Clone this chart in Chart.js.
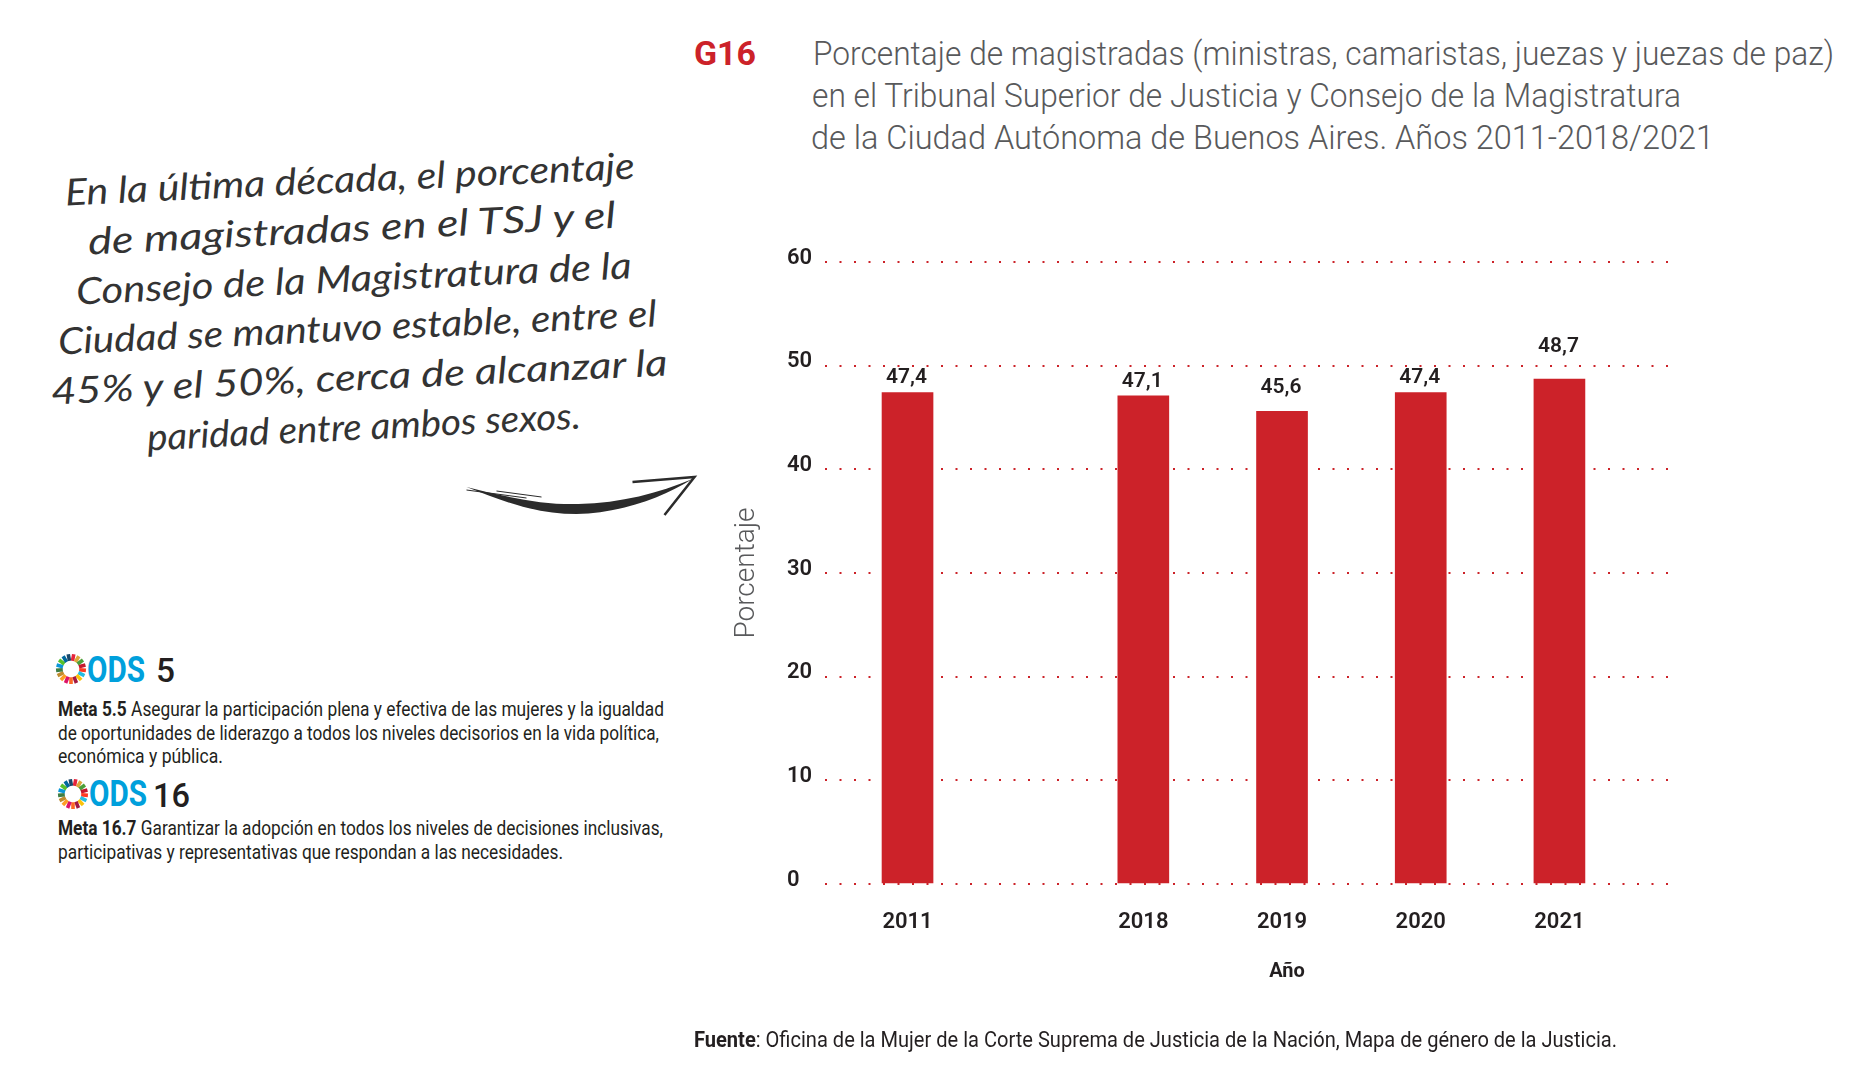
<!DOCTYPE html>
<html lang="es">
<head>
<meta charset="UTF-8">
<title>G16 Porcentaje de magistradas</title>
<script src="https://cdn.jsdelivr.net/npm/chart.js"></script>
<style>
    html, body { margin: 0; background: #fff; overflow: hidden; }
    #page { position: relative; width: 1871px; height: 1087px; }
    #page canvas { position: absolute; left: 700px; top: 230px; }
    .t { position: absolute; white-space: pre; line-height: 1; }
    .t b { font-weight: 700; }
    svg { position: absolute; left: 0; top: 0; }
</style>
</head>
<body>
<div id="page">
    <svg id="deco" width="1871" height="1087"></svg>
    <canvas id="myChart" width="1000" height="800"></canvas>
</div>
<script>
const categories = [2011, 2018, 2019, 2020, 2021];
const values = [47.4, 47.1, 45.6, 47.4, 48.7];
const valueLabels = ['47,4', '47,1', '45,6', '47,4', '48,7'];
const yTicks = [0, 10, 20, 30, 40, 50, 60];
const titleLines = [
    'Porcentaje de magistradas (ministras, camaristas, juezas y juezas de paz)',
    'en el Tribunal Superior de Justicia y Consejo de la Magistratura',
    'de la Ciudad Autónoma de Buenos Aires. Años 2011-2018/2021'
];
const noteLines = [
    'En la última década, el porcentaje',
    'de magistradas en el TSJ y el',
    'Consejo de la Magistratura de la',
    'Ciudad se mantuvo estable, entre el',
    '45% y el 50%, cerca de alcanzar la',
    'paridad entre ambos sexos.'
];
const sdgColors = ['#e5243b', '#dda63a', '#4c9f38', '#c5192d', '#ff3a21', '#26bde2', '#fcc30b', '#a21942', '#fd6925',
    '#dd1367', '#fd9d24', '#bf8b2e', '#3f7e44', '#0a97d9', '#56c02b', '#00689d', '#19486a'];

const RED = '#cc2229';
const INK = '#231f20';
const GREY = '#58595b';
const LABEL_FONT = 'Roboto, sans-serif';

// the axis is broken between 2011 and 2018: seven years take 1.7 slots
const AXIS_GAP = 1.7;
function axisPos(year) {
    return year === categories[0] ? 0 : year - categories[1] + AXIS_GAP;
}

// puts a line of text with its left end at x, squeezed to the width in the picture
function put(html, x, y, width, css, angle) {
    const el = document.createElement('div');
    el.className = 't';
    el.innerHTML = html;
    el.style.cssText = 'left:' + x + 'px;top:' + y + 'px;' + css;
    document.getElementById('page').appendChild(el);
    const k = width / el.getBoundingClientRect().width;
    el.style.transformOrigin = 'left center';
    el.style.transform = 'translateY(-50%) rotate(' + (angle || 0) + 'deg) scaleX(' + k + ')';
}

// SDG wheel
function wheel(cx, cy, r) {
    let s = '';
    sdgColors.forEach((c, i) => {
        const a = -Math.PI / 2 + (i + 0.5) * 2 * Math.PI / sdgColors.length;
        s += '<line x1="' + (cx + r * 0.55 * Math.cos(a)) + '" y1="' + (cy + r * 0.55 * Math.sin(a)) +
            '" x2="' + (cx + r * Math.cos(a)) + '" y2="' + (cy + r * Math.sin(a)) +
            '" stroke="' + c + '" stroke-width="' + (r * 0.24) + '"/>';
    });
    return s;
}

document.getElementById('deco').innerHTML =
    wheel(71, 669, 15) + wheel(73, 794, 15) +
    // hand drawn arrow
    '<g transform="translate(-3.5 0)">' +
    '<path d="M470 487 C515 505 545 514 580 514 C625 513 665 498 696 479 C662 493 625 503 582 504 C545 505 510 497 470 487 Z" fill="#2b2b2b"/>' +
    '<path d="M470 490 L530 498 M500 491 L545 497" stroke="#2b2b2b" stroke-width="1" fill="none"/>' +
    '<path d="M636 482 L698 477 L668 515" fill="none" stroke="#2b2b2b" stroke-width="2.5"/></g>';

const titleCss = 'font:300 34px Roboto,sans-serif;color:' + GREY + ';';
put('G16', 693.5, 53, 62, 'font:700 33px Roboto,sans-serif;color:' + RED + ';');
put(titleLines[0], 812.5, 53, 1021, titleCss);
put(titleLines[1], 811.5, 95, 869, titleCss);
put(titleLines[2], 811, 137, 903, titleCss);

const noteCss = 'font:italic 400 37px Lato,sans-serif;color:#333;';
put(noteLines[0], 65, 191, 570, noteCss, -2.7);
put(noteLines[1], 88, 240, 528, noteCss, -2.9);
put(noteLines[2], 76, 290, 556, noteCss, -2.7);
put(noteLines[3], 58, 340, 599, noteCss, -2.7);
put(noteLines[4], 51, 390, 617, noteCss, -2.7);
put(noteLines[5], 147, 436, 434, noteCss, -2.9);

const odsCss = 'font:700 36px Roboto,sans-serif;color:#00a0dc;';
const numCss = 'font:500 33px Roboto,sans-serif;color:' + INK + ';';
const metaCss = 'font:400 19.5px Roboto,sans-serif;color:' + INK + ';';
put('ODS', 87, 670, 58, odsCss);
put('5', 156, 670, 19, numCss);
put('<b>Meta 5.5</b> Asegurar la participación plena y efectiva de las mujeres y la igualdad', 58, 708.5, 606, metaCss);
put('de oportunidades de liderazgo a todos los niveles decisorios en la vida política,', 58, 732.5, 601, metaCss);
put('económica y pública.', 58, 755.5, 165, metaCss);
put('ODS', 89, 794, 58, odsCss);
put('16', 153, 795, 37, numCss);
put('<b>Meta 16.7</b> Garantizar la adopción en todos los niveles de decisiones inclusivas,', 58, 827.5, 605, metaCss);
put('participativas y representativas que respondan a las necesidades.', 58, 851.5, 505, metaCss);

put('<b>Fuente</b>: Oficina de la Mujer de la Corte Suprema de Justicia de la Nación, Mapa de género de la Justicia.',
    693.5, 1039, 923, 'font:400 22px Roboto,sans-serif;color:' + INK + ';');

// lift of each value label above its bar, as in the original layout
const labelLift = [15, 14, 24, 15, 32];

const barLabels = {
    id: 'barLabels',
    afterDatasetsDraw(chart) {
        const { ctx, scales } = chart;
        ctx.save();
        ctx.fillStyle = INK;
        ctx.textAlign = 'center';
        ctx.textBaseline = 'middle';
        ctx.font = '600 21px ' + LABEL_FONT;
        chart.getDatasetMeta(0).data.forEach((bar, i) => {
            ctx.fillText(valueLabels[i], bar.x - 1, bar.y - labelLift[i]);
        });
        // axis title sits right of the plot centre, scale titles cannot do that
        ctx.font = '700 20px ' + LABEL_FONT;
        ctx.fillText('Año', scales.x.getPixelForValue(axisPos(2019)) + 5, 742);
        ctx.restore();
    }
};

new Chart(document.getElementById('myChart'), {
    type: 'bar',
    data: {
        datasets: [{
            data: categories.map((c, i) => ({ x: axisPos(c), y: values[i] })),
            backgroundColor: RED,
            barThickness: 51
        }]
    },
    plugins: [barLabels],
    options: {
        responsive: false,
        animation: false,
        devicePixelRatio: 1,
        layout: { padding: { left: 87, right: 26, top: 32, bottom: 0 } },
        plugins: { legend: { display: false }, tooltip: { enabled: false } },
        scales: {
            x: {
                type: 'linear',
                offset: false,
                min: -0.595,
                max: 5.526,
                grid: { display: false },
                border: { display: false },
                afterBuildTicks(scale) {
                    scale.ticks = categories.map(c => ({ value: axisPos(c) }));
                },
                afterFit(scale) { scale.height = 146; },
                ticks: {
                    autoSkip: false,
                    maxRotation: 0,
                    padding: 17,
                    color: INK,
                    font: { family: LABEL_FONT, size: 22, weight: '600' },
                    callback: (v, i) => String(categories[i])
                }
            },
            y: {
                min: 0,
                max: 60,
                afterBuildTicks(scale) {
                    scale.ticks = yTicks.map(v => ({ value: v }));
                },
                afterFit(scale) { scale.width = 38; },
                grid: {
                    color: RED,
                    lineWidth: 2,
                    drawTicks: false
                },
                border: { display: false, dash: [2, 12.5] },
                title: {
                    display: true,
                    text: 'Porcentaje',
                    color: GREY,
                    padding: { top: -57, bottom: 0 },
                    font: { family: LABEL_FONT, size: 28, weight: '300' }
                },
                ticks: {
                    crossAlign: 'far',
                    labelOffset: -4,
                    color: INK,
                    font: { family: LABEL_FONT, size: 22, weight: '600' }
                }
            }
        }
    }
});
</script>
</body>
</html>
